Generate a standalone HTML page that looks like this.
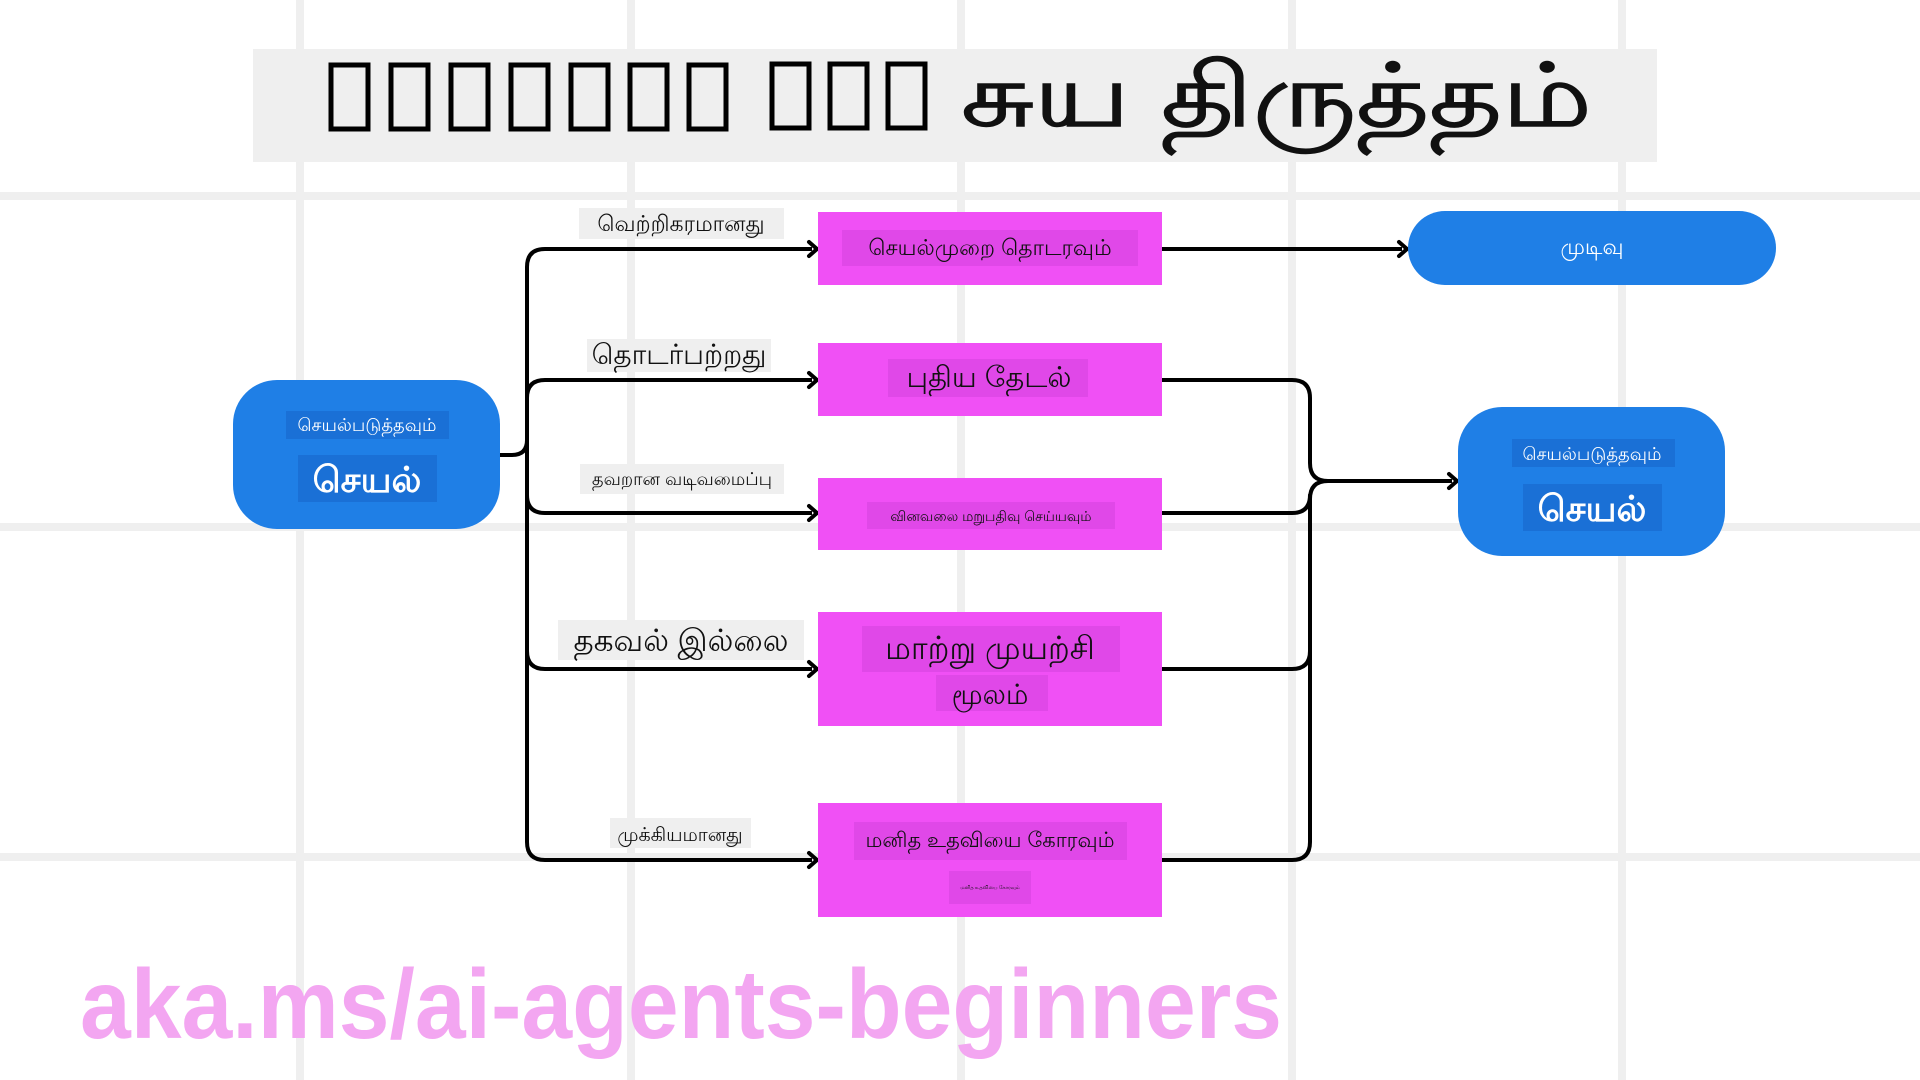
<!DOCTYPE html>
<html><head><meta charset="utf-8"><style>
html,body{margin:0;padding:0;background:#fff;}
svg{display:block;}
text{font-family:"Liberation Sans","Noto Sans CJK SC",sans-serif;}
</style></head><body>
<svg width="1920" height="1080" viewBox="0 0 1920 1080" xmlns="http://www.w3.org/2000/svg">
<g fill="#efefef">
<rect x="296" y="0" width="8" height="1080"/>
<rect x="627" y="0" width="8" height="1080"/>
<rect x="957" y="0" width="8" height="1080"/>
<rect x="1288" y="0" width="8" height="1080"/>
<rect x="1618" y="0" width="8" height="1080"/>
<rect x="0" y="192" width="1920" height="8"/>
<rect x="0" y="523" width="1920" height="8"/>
<rect x="0" y="853" width="1920" height="8"/>
</g>
<!-- title -->
<rect x="253" y="49" width="1404" height="113" fill="#efefef"/>
<g fill="none" stroke="#000" stroke-width="5">
<rect x="331" y="65" width="37" height="64"/>
<rect x="391" y="65" width="37" height="64"/>
<rect x="451" y="65" width="37" height="64"/>
<rect x="511" y="65" width="37" height="64"/>
<rect x="571" y="65" width="37" height="64"/>
<rect x="630" y="65" width="37" height="64"/>
<rect x="689" y="65" width="37" height="64"/>
<rect x="772" y="64" width="37" height="64"/>
<rect x="830" y="64" width="37" height="64"/>
<rect x="888" y="64" width="37" height="64"/>
</g>
<text x="961" y="126" font-size="88" textLength="631" lengthAdjust="spacingAndGlyphs" fill="#111" stroke="#111" stroke-width="1.5">சுய திருத்தம்</text>

<!-- connectors -->
<g fill="none" stroke="#000" stroke-width="4" stroke-linejoin="round">
<path d="M500 455 H512 Q527 455 527 440 V267 Q527 249 545 249 H812"/>
<path d="M527 398 Q527 380 545 380 H812"/>
<path d="M527 470 V495 Q527 513 545 513 H812"/>
<path d="M527 440 V651 Q527 669 545 669 H812"/>
<path d="M527 640 V842 Q527 860 545 860 H812"/>
<path d="M1162 249 H1402"/>
<path d="M1162 380 H1292 Q1310 380 1310 398 V463 Q1310 481 1328 481 H1452"/>
<path d="M1162 513 H1292 Q1310 513 1310 495 V499 Q1310 481 1328 481"/>
<path d="M1162 669 H1292 Q1310 669 1310 651 V499"/>
<path d="M1162 860 H1292 Q1310 860 1310 842 V640"/>
</g>
<g fill="none" stroke="#000" stroke-width="4" stroke-linecap="round" stroke-linejoin="round">
<path d="M809 242 L817 249 L809 256"/>
<path d="M809 373 L817 380 L809 387"/>
<path d="M809 506 L817 513 L809 520"/>
<path d="M809 662 L817 669 L809 676"/>
<path d="M809 853 L817 860 L809 867"/>
<path d="M1399 242 L1407 249 L1399 256"/>
<path d="M1449 474 L1457 481 L1449 488"/>
</g>

<!-- edge labels -->
<g fill="#efefef">
<rect x="579" y="208" width="205" height="31"/>
<rect x="587" y="339" width="184" height="33"/>
<rect x="580" y="464" width="204" height="30"/>
<rect x="558" y="620" width="246" height="40"/>
<rect x="610" y="818" width="141" height="30"/>
</g>
<g fill="#111" text-anchor="middle">
<text x="681" y="231" font-size="22">வெற்றிகரமானது</text>
<text x="679" y="364" font-size="28">தொடர்பற்றது</text>
<text x="682" y="485" font-size="18">தவறான வடிவமைப்பு</text>
<text x="681" y="651" font-size="31">தகவல் இல்லை</text>
<text x="680" y="841" font-size="19">முக்கியமானது</text>
</g>

<!-- left node -->
<rect x="233" y="380" width="267" height="149" rx="44" fill="#1f7fe6"/>
<rect x="286" y="411" width="163" height="28" fill="#1a70d6"/>
<rect x="298" y="455" width="139" height="47" fill="#1a70d6"/>
<text x="367" y="431" font-size="18" fill="#fff" text-anchor="middle">செயல்படுத்தவும்</text>
<text x="367" y="492" font-size="36" font-weight="bold" fill="#fff" text-anchor="middle">செயல்</text>

<!-- right node -->
<rect x="1458" y="407" width="267" height="149" rx="44" fill="#1f7fe6"/>
<rect x="1512" y="439" width="163" height="28" fill="#1a70d6"/>
<rect x="1523" y="484" width="139" height="47" fill="#1a70d6"/>
<text x="1592" y="460" font-size="18" fill="#fff" text-anchor="middle">செயல்படுத்தவும்</text>
<text x="1592" y="521" font-size="36" font-weight="bold" fill="#fff" text-anchor="middle">செயல்</text>

<!-- end node -->
<rect x="1408" y="211" width="368" height="74" rx="37" fill="#1f7fe6"/>
<text x="1592" y="254" font-size="22" fill="#fff" text-anchor="middle">முடிவு</text>

<!-- pink boxes -->
<g fill="#f050f5">
<rect x="818" y="212" width="344" height="73"/>
<rect x="818" y="343" width="344" height="73"/>
<rect x="818" y="478" width="344" height="72"/>
<rect x="818" y="612" width="344" height="114"/>
<rect x="818" y="803" width="344" height="114"/>
</g>
<g fill="#e048e8">
<rect x="842" y="230" width="296" height="36"/>
<rect x="888" y="359" width="200" height="38"/>
<rect x="867" y="502" width="248" height="27"/>
<rect x="862" y="626" width="258" height="46"/>
<rect x="936" y="675" width="112" height="36"/>
<rect x="854" y="822" width="273" height="38"/>
<rect x="949" y="871" width="82" height="33"/>
</g>
<g fill="#111" text-anchor="middle">
<text x="990" y="255" font-size="22">செயல்முறை தொடரவும்</text>
<text x="989" y="387" font-size="29">புதிய தேடல்</text>
<text x="991" y="521" font-size="14">வினவலை மறுபதிவு செய்யவும்</text>
<text x="990" y="659" font-size="32">மாற்று முயற்சி</text>
<text x="990" y="704" font-size="28">மூலம்</text>
<text x="990" y="847" font-size="21">மனித உதவியை கோரவும்</text>
<text x="990" y="889" font-size="5">மனித உதவியை கோரவும்</text>
</g>

<!-- footer -->
<text x="80" y="1038" font-size="98" font-weight="bold" fill="#f3a6f1" textLength="1202" lengthAdjust="spacingAndGlyphs">aka.ms/ai-agents-beginners</text>
</svg>
</body></html>
